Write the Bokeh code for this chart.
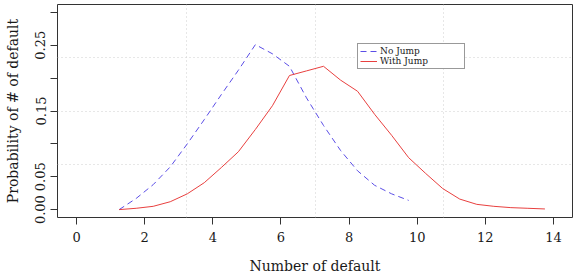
from bokeh.plotting import figure
from bokeh.models import Range1d, FixedTicker, Grid, Legend, LegendItem
from bokeh.embed import file_html
from bokeh.resources import INLINE

# Distribution of the number of defaults, without and with jumps
x_no_jump = [1.25, 1.75, 2.25, 2.75, 3.25, 3.75, 4.25, 4.75, 5.25,
             5.75, 6.25, 6.75, 7.25, 7.75, 8.25, 8.75, 9.25, 9.75]
p_no_jump = [0.000, 0.017, 0.038, 0.065, 0.100, 0.137, 0.175, 0.212, 0.251,
             0.237, 0.218, 0.170, 0.128, 0.090, 0.059, 0.037, 0.024, 0.014]

x_with_jump = [1.25, 1.75, 2.25, 2.75, 3.25, 3.75, 4.25, 4.75, 5.25,
               5.75, 6.25, 6.75, 7.25, 7.75, 8.25, 8.75, 9.25, 9.75,
               10.25, 10.75, 11.25, 11.75, 12.25, 12.75, 13.25, 13.75]
p_with_jump = [0.000, 0.002, 0.005, 0.012, 0.024, 0.041, 0.064, 0.088, 0.122,
               0.158, 0.204, 0.211, 0.218, 0.197, 0.180, 0.145, 0.113, 0.079,
               0.055, 0.032, 0.016, 0.008, 0.005, 0.003, 0.002, 0.001]

x_ticks = [0, 2, 4, 6, 8, 10, 12, 14]
y_ticks = [0.0, 0.05, 0.1, 0.15, 0.2, 0.25, 0.3]
y_tick_labels = ["0.00", "0.05", "", "0.15", "", "0.25", ""]

series_names = ["No Jump", "With Jump"]

SERIF = "DejaVu Serif"
INK = "#1a1a1a"

# data limits padded by 4% on each side
x_lo, x_hi = 0.0, 14.0
y_lo, y_hi = 0.0, 0.3
xpad = 0.04 * (x_hi - x_lo)
ypad = 0.04 * (y_hi - y_lo)
xr = Range1d(x_lo - xpad, x_hi + xpad)
yr = Range1d(y_lo - ypad, y_hi + ypad)

p = figure(width=582, height=276, x_range=xr, y_range=yr,
           output_backend="svg", toolbar_location=None,
           min_border_left=57, min_border_right=10,
           min_border_top=4, min_border_bottom=59,
           background_fill_color="white", border_fill_color="white")

p.outline_line_color = "#333333"
p.outline_line_width = 1
p.xgrid.visible = False
p.ygrid.visible = False

# dotted grid dividing the panel into quarters
def quarters(r):
    span = r.end - r.start
    return [r.start + span * k / 4 for k in (1, 2, 3)]

for dim, r in ((0, xr), (1, yr)):
    g = Grid(dimension=dim, ticker=FixedTicker(ticks=quarters(r)),
             grid_line_color="#cfcfcf", grid_line_dash="1 3", grid_line_width=1)
    p.add_layout(g)

# axes
xa = p.xaxis[0]
xa.ticker = FixedTicker(ticks=x_ticks)
xa.axis_label = "Number of default"
ya = p.yaxis[0]
ya.ticker = FixedTicker(ticks=y_ticks)
ya.major_label_overrides = dict(zip(y_ticks, y_tick_labels))
ya.major_label_orientation = "vertical"
ya.axis_label = "Probability of # of default"

for ax in (xa, ya):
    ax.axis_line_color = None
    ax.major_tick_in = 0
    ax.major_tick_out = 7
    ax.major_tick_line_color = "#333333"
    ax.minor_tick_line_color = None
    ax.major_label_text_font = SERIF
    ax.major_label_text_font_size = "13px"
    ax.major_label_text_color = INK
    ax.axis_label_text_font = SERIF
    ax.axis_label_text_font_size = "14px"
    ax.axis_label_text_font_style = "normal"
    ax.axis_label_text_color = INK

xa.major_label_standoff = 7
xa.axis_label_standoff = 13
ya.major_label_standoff = 5
ya.axis_label_standoff = 12

r1 = p.line(x_no_jump, p_no_jump, line_color="#5b4ee6", line_width=1,
            line_dash="6 4")
r2 = p.line(x_with_jump, p_with_jump, line_color="#e8403f", line_width=1)

legend = Legend(items=[LegendItem(label=series_names[0], renderers=[r1]),
                       LegendItem(label=series_names[1], renderers=[r2])],
                location=(300, 148), orientation="vertical",
                padding=2, spacing=0, margin=0,
                glyph_width=17, glyph_height=8, label_height=8,
                label_width=82, label_standoff=3,
                label_text_font=SERIF, label_text_font_size="9px",
                label_text_color=INK,
                border_line_color="#333333", border_line_width=1,
                background_fill_color="white", background_fill_alpha=1)
p.add_layout(legend)

open("out.html", "w").write(file_html(p, INLINE))
